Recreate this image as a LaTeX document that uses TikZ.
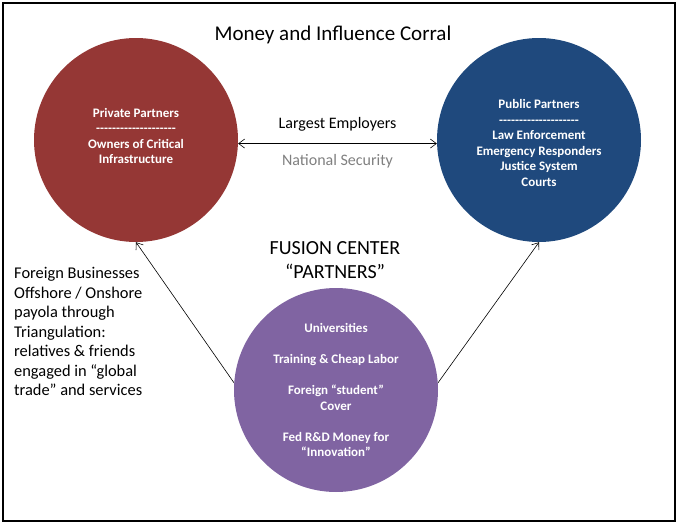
\documentclass[tikz,border=0pt]{standalone}
\usepackage{fontspec}
\setmainfont{Carlito}
\usepackage{tikz}
\usetikzlibrary{positioning,arrows.meta}

\definecolor{privred}{HTML}{953735}
\definecolor{pubblue}{HTML}{1F497D}
\definecolor{fusionpurple}{HTML}{8064A2}

\newcommand{\dashrow}[1]{\foreach \i in {1,...,#1}{-\kern0pt}}

\begin{document}
\begin{tikzpicture}[x=1pt, y=-1pt,
    partner/.style={circle, minimum size=204pt, inner sep=0pt},
    partnertext/.style={text=white, align=center, font=\bfseries\fontsize{13}{15.5}\selectfont},
    link/.style={-{Straight Barb[length=6pt,width=9pt]}, black, line width=0.6pt},
    label/.style={inner sep=0pt, font=\fontsize{16}{19}\selectfont}]
    \useasboundingbox (0,0) rectangle (678,525);
    \draw[line width=1.4pt] (3,3) rectangle (675,521);

    \node[font=\fontsize{21}{25}\selectfont] (title) at (333,35) {Money and Influence Corral};

    \node[partner, fill=privred] (priv) at (136,140) {};
    \node[partnertext, yshift=4pt] (privtext) at (priv.center)
        {Private Partners\\ \dashrow{20}\\ Owners of Critical\\ Infrastructure};
    \node[partner, fill=pubblue] (pub) at (539,140) {};
    \node[partnertext, yshift=-3pt] (pubtext) at (pub.center)
        {Public Partners\\ \dashrow{20}\\ Law Enforcement\\ Emergency Responders\\ Justice System\\ Courts};
    \node[partner, fill=fusionpurple] (fus) at (336,390) {};
    \node[partnertext] (fustext) at (fus.center)
        {Universities\\[15.5pt] Training \& Cheap Labor\\[15.5pt] Foreign “student”\\ Cover\\[15.5pt]
         Fed R\&D Money for\\ “Innovation”};

    \node[align=center, font=\fontsize{20}{24}\selectfont] (fcp) at (335,260) {FUSION CENTER\\ “PARTNERS”};

    \node[anchor=west, align=left, inner sep=0pt, font=\fontsize{16.4}{19.5}\selectfont] (foreign) at (14,331.5)
        {Foreign Businesses\\ Offshore / Onshore\\ payola through\\ Triangulation:\\ relatives \& friends\\
         engaged in “global\\ trade” and services};

    \draw[link, {Straight Barb[length=6pt,width=9pt]}-{Straight Barb[length=6pt,width=9pt]}] (priv.-2) --
        node[label, above=12pt] (employ) {Largest Employers}
        node[label, below=11pt, text=gray] (natsec) {National Security} (pub.182);
    \draw[link] (fus.176) -- (priv.south);
    \draw[link] (fus.4) -- (pub.south);
\end{tikzpicture}
\end{document}
